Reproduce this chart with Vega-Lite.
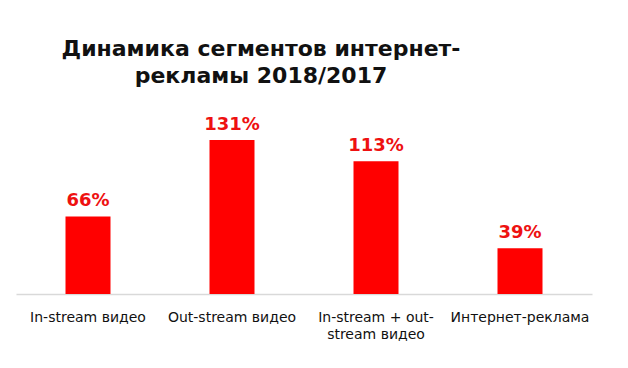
{
  "$schema": "https://vega.github.io/schema/vega-lite/v6.json",
  "width": 576,
  "height": 154,
  "autosize": "none",
  "padding": {"left": 16, "top": 140, "right": 36, "bottom": 74},
  "background": "white",
  "title": {
    "text": ["Динамика сегментов интернет-", "рекламы 2018/2017"],
    "font": "DejaVu Sans",
    "fontSize": 22,
    "fontWeight": "bold",
    "color": "#111111",
    "anchor": "start",
    "align": "center",
    "dx": 245,
    "offset": 28,
    "lineHeight": 27
  },
  "data": {
    "values": [
      {"segment": "In-stream видео", "value": 66, "label": "66%"},
      {"segment": "Out-stream видео", "value": 131, "label": "131%"},
      {"segment": "In-stream + out-stream видео", "value": 113, "label": "113%"},
      {"segment": "Интернет-реклама", "value": 39, "label": "39%"}
    ]
  },
  "encoding": {
    "x": {
      "field": "segment",
      "type": "nominal",
      "sort": null,
      "scale": {"paddingInner": 0.6875, "paddingOuter": 0.34375},
      "axis": {
        "title": null,
        "labelAngle": 0,
        "labelFont": "DejaVu Sans",
        "labelFontSize": 14,
        "labelColor": "#111111",
        "labelPadding": 16,
        "labelLimit": 200,
        "labelLineHeight": 17,
        "labelExpr": "datum.value == 'In-stream + out-stream видео' ? ['In-stream + out-', 'stream видео'] : datum.value",
        "ticks": false,
        "domainColor": "#d9d9d9",
        "domainWidth": 1.5
      }
    },
    "y": {
      "field": "value",
      "type": "quantitative",
      "scale": {"domain": [0, 131], "nice": false},
      "axis": null
    }
  },
  "layer": [
    {"mark": {"type": "bar", "color": "#ff0000"}},
    {
      "mark": {
        "type": "text",
        "baseline": "alphabetic",
        "dy": -10,
        "font": "DejaVu Sans",
        "fontSize": 18,
        "fontWeight": "bold",
        "color": "#ee1111"
      },
      "encoding": {"text": {"field": "label"}}
    }
  ],
  "config": {"view": {"stroke": null}}
}
